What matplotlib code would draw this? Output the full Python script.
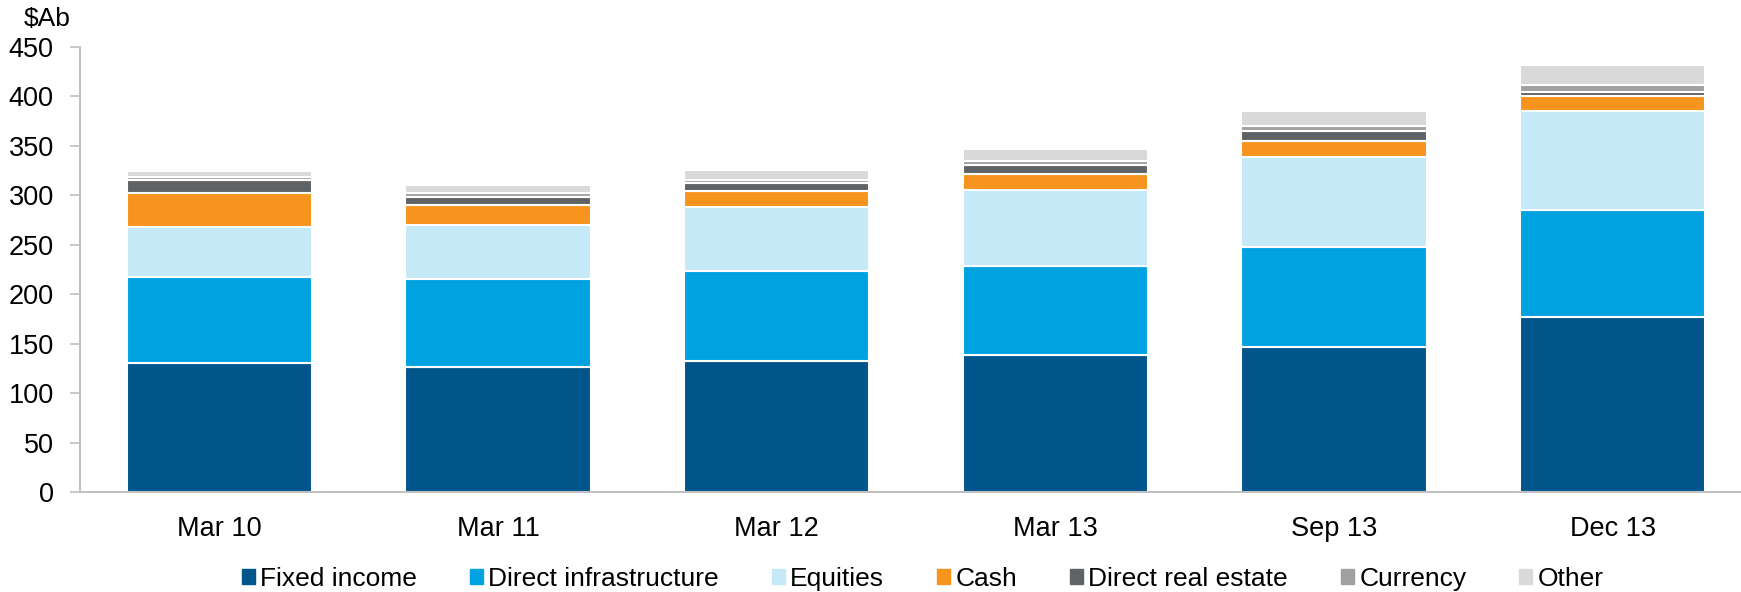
import matplotlib
matplotlib.use('Agg')
import matplotlib.pyplot as plt
import matplotlib.patches as mpatches
import numpy as np

plt.rcParams['font.family'] = ['Liberation Sans', 'DejaVu Sans']

categories = ['Mar 10', 'Mar 11', 'Mar 12', 'Mar 13', 'Sep 13', 'Dec 13']
fixed_income = [130, 126, 132, 139, 147, 177]
direct_infra = [87, 89, 91, 90, 101, 108]
equities = [51, 55, 65, 76, 91, 100]
cash = [34, 20, 16, 17, 16, 15]
direct_real_estate = [14, 8, 8, 9, 10, 4]
currency = [3, 4, 4, 4, 5, 8]
other = [6, 8, 10, 12, 15, 20]

series = [
    ('Fixed income', fixed_income, '#00558b'),
    ('Direct infrastructure', direct_infra, '#00a3e0'),
    ('Equities', equities, '#c6e9f8'),
    ('Cash', cash, '#f7941d'),
    ('Direct real estate', direct_real_estate, '#5f6366'),
    ('Currency', currency, '#a0a0a0'),
    ('Other', other, '#d9d9d9'),
]

fig = plt.figure(figsize=(17.41, 5.92), dpi=100)
ax = fig.add_axes([0.046, 0.169, 0.9604, 0.7516])

x = np.arange(len(categories))
bottom = np.zeros(len(categories))
handles = []
for name, vals, col in series:
    ax.bar(x, vals, 0.665, bottom=bottom, color=col, edgecolor='white', linewidth=1.5)
    bottom += np.array(vals)
    handles.append(mpatches.Patch(color=col, label=name))

ax.set_xlim(-0.5, len(categories) - 0.5)
ax.set_ylim(0, 450)
ax.set_yticks(range(0, 451, 50))
ax.set_xticks(x)
ax.set_xticklabels(categories)
ax.tick_params(axis='both', labelsize=19.5, colors='#bfbfbf', labelcolor='black')
ax.tick_params(axis='y', length=7, width=1.2, pad=12)
ax.tick_params(axis='x', length=0, pad=17)
for s in ['top', 'right']:
    ax.spines[s].set_visible(False)
for s in ['left', 'bottom']:
    ax.spines[s].set_color('#bfbfbf')
    ax.spines[s].set_linewidth(1.4)

fig.text(0.027, 0.968, '$Ab', fontsize=19, ha='center', va='center')

fig.legend(handles=handles, loc='center', bbox_to_anchor=(0.53, 0.022), ncol=7,
           frameon=False, fontsize=19, handlelength=0.5, handleheight=0.5,
           handletextpad=0.2, columnspacing=2.0)

fig.savefig('out.png', dpi=100)
